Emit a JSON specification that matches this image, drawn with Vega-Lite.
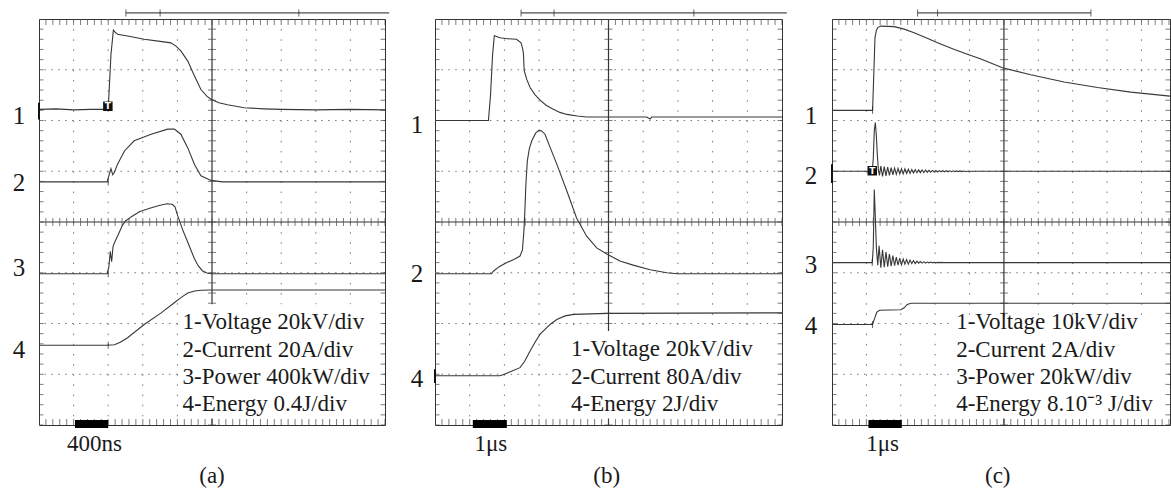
{
"$schema": "https://vega.github.io/schema/vega-lite/v6.json",
"background": "white",
"padding": {"left": 12, "top": 8, "right": 0, "bottom": 4},
"bounds": "flush",
"spacing": 50,
"config": {"view": {"stroke": "#333", "strokeWidth": 1}, "axis": {"labels": false, "ticks": false, "domain": false, "grid": false}},
"datasets": {
"gx": [{"t":1},{"t":2},{"t":3},{"t":4},{"t":6},{"t":7},{"t":8},{"t":9}],
"gy": [{"v":1},{"v":2},{"v":3},{"v":5},{"v":6},{"v":7}],
"xt": [{"t":0},{"t":0.2},{"t":0.4},{"t":0.6},{"t":0.8},{"t":1},{"t":1.2},{"t":1.4},{"t":1.6},{"t":1.8},{"t":2},{"t":2.2},{"t":2.4},{"t":2.6},{"t":2.8},{"t":3},{"t":3.2},{"t":3.4},{"t":3.6},{"t":3.8},{"t":4},{"t":4.2},{"t":4.4},{"t":4.6},{"t":4.8},{"t":5},{"t":5.2},{"t":5.4},{"t":5.6},{"t":5.8},{"t":6},{"t":6.2},{"t":6.4},{"t":6.6},{"t":6.8},{"t":7},{"t":7.2},{"t":7.4},{"t":7.6},{"t":7.8},{"t":8},{"t":8.2},{"t":8.4},{"t":8.6},{"t":8.8},{"t":9},{"t":9.2},{"t":9.4},{"t":9.6},{"t":9.8},{"t":10}],
"yt": [{"v":0},{"v":0.2},{"v":0.4},{"v":0.6},{"v":0.8},{"v":1},{"v":1.2},{"v":1.4},{"v":1.6},{"v":1.8},{"v":2},{"v":2.2},{"v":2.4},{"v":2.6},{"v":2.8},{"v":3},{"v":3.2},{"v":3.4},{"v":3.6},{"v":3.8},{"v":4},{"v":4.2},{"v":4.4},{"v":4.6},{"v":4.8},{"v":5},{"v":5.2},{"v":5.4},{"v":5.6},{"v":5.8},{"v":6},{"v":6.2},{"v":6.4},{"v":6.6},{"v":6.8},{"v":7},{"v":7.2},{"v":7.4},{"v":7.6},{"v":7.8},{"v":8}],
"one": [{}],
"trigA": [{"t":2.0,"v":4.79},{"t":2.0,"v":2.98},{"t":2.0,"v":1.57}],
"trigC": [{"t":1.18,"v":6.2},{"t":1.17,"v":3.2},{"t":1.18,"v":1.98}],
"A": [
{"ch":1,"t":0,"v":6.22},{"ch":1,"t":0.5,"v":6.23},{"ch":1,"t":1.0,"v":6.21},{"ch":1,"t":1.5,"v":6.22},{"ch":1,"t":2.0,"v":6.22},{"ch":1,"t":2.08,"v":7.3},{"ch":1,"t":2.15,"v":7.78},{"ch":1,"t":2.2,"v":7.74},{"ch":1,"t":2.27,"v":7.7},{"ch":1,"t":2.6,"v":7.66},{"ch":1,"t":3.04,"v":7.6},{"ch":1,"t":3.5,"v":7.56},{"ch":1,"t":3.81,"v":7.53},{"ch":1,"t":3.95,"v":7.47},{"ch":1,"t":4.1,"v":7.37},{"ch":1,"t":4.3,"v":7.17},{"ch":1,"t":4.49,"v":6.88},{"ch":1,"t":4.68,"v":6.61},{"ch":1,"t":4.85,"v":6.48},{"ch":1,"t":4.97,"v":6.42},{"ch":1,"t":5.2,"v":6.35},{"ch":1,"t":5.45,"v":6.31},{"ch":1,"t":5.93,"v":6.25},{"ch":1,"t":6.5,"v":6.23},{"ch":1,"t":7,"v":6.22},{"ch":1,"t":8,"v":6.21},{"ch":1,"t":9,"v":6.22},{"ch":1,"t":10,"v":6.21},
{"ch":2,"t":0,"v":4.79},{"ch":2,"t":1.97,"v":4.79},{"ch":2,"t":2.03,"v":4.94},{"ch":2,"t":2.08,"v":5.05},{"ch":2,"t":2.13,"v":4.93},{"ch":2,"t":2.18,"v":4.98},{"ch":2,"t":2.27,"v":5.14},{"ch":2,"t":2.47,"v":5.4},{"ch":2,"t":2.75,"v":5.6},{"ch":2,"t":3.24,"v":5.73},{"ch":2,"t":3.72,"v":5.83},{"ch":2,"t":3.91,"v":5.83},{"ch":2,"t":4.1,"v":5.73},{"ch":2,"t":4.3,"v":5.46},{"ch":2,"t":4.49,"v":5.14},{"ch":2,"t":4.68,"v":4.91},{"ch":2,"t":4.97,"v":4.82},{"ch":2,"t":5.3,"v":4.79},{"ch":2,"t":10,"v":4.79},
{"ch":3,"t":0,"v":2.98},{"ch":3,"t":1.97,"v":2.98},{"ch":3,"t":2.02,"v":3.12},{"ch":3,"t":2.06,"v":3.42},{"ch":3,"t":2.1,"v":3.22},{"ch":3,"t":2.14,"v":3.52},{"ch":3,"t":2.2,"v":3.62},{"ch":3,"t":2.27,"v":3.72},{"ch":3,"t":2.4,"v":3.92},{"ch":3,"t":2.5,"v":4.02},{"ch":3,"t":2.66,"v":4.1},{"ch":3,"t":2.9,"v":4.2},{"ch":3,"t":3.2,"v":4.27},{"ch":3,"t":3.5,"v":4.33},{"ch":3,"t":3.7,"v":4.36},{"ch":3,"t":3.85,"v":4.35},{"ch":3,"t":3.93,"v":4.3},{"ch":3,"t":4.01,"v":4.12},{"ch":3,"t":4.15,"v":3.85},{"ch":3,"t":4.3,"v":3.6},{"ch":3,"t":4.49,"v":3.28},{"ch":3,"t":4.6,"v":3.14},{"ch":3,"t":4.72,"v":3.04},{"ch":3,"t":4.87,"v":2.99},{"ch":3,"t":5.0,"v":2.98},{"ch":3,"t":10,"v":2.98},
{"ch":4,"t":0,"v":1.57},{"ch":4,"t":1.98,"v":1.57},{"ch":4,"t":2.18,"v":1.58},{"ch":4,"t":2.35,"v":1.63},{"ch":4,"t":2.56,"v":1.72},{"ch":4,"t":3.04,"v":1.98},{"ch":4,"t":3.53,"v":2.21},{"ch":4,"t":3.91,"v":2.41},{"ch":4,"t":4.1,"v":2.51},{"ch":4,"t":4.3,"v":2.6},{"ch":4,"t":4.5,"v":2.64},{"ch":4,"t":4.68,"v":2.655},{"ch":4,"t":4.97,"v":2.66},{"ch":4,"t":10,"v":2.66}
],
"B": [
{"ch":1,"t":0,"v":6.0},{"ch":1,"t":1.0,"v":6.0},{"ch":1,"t":1.54,"v":6.0},{"ch":1,"t":1.6,"v":6.5},{"ch":1,"t":1.66,"v":7.3},{"ch":1,"t":1.71,"v":7.67},{"ch":1,"t":1.87,"v":7.63},{"ch":1,"t":2.1,"v":7.61},{"ch":1,"t":2.35,"v":7.6},{"ch":1,"t":2.48,"v":7.53},{"ch":1,"t":2.53,"v":7.4},{"ch":1,"t":2.55,"v":7.3},{"ch":1,"t":2.57,"v":6.98},{"ch":1,"t":2.65,"v":6.8},{"ch":1,"t":2.74,"v":6.65},{"ch":1,"t":2.88,"v":6.51},{"ch":1,"t":3.03,"v":6.4},{"ch":1,"t":3.2,"v":6.3},{"ch":1,"t":3.41,"v":6.22},{"ch":1,"t":3.6,"v":6.16},{"ch":1,"t":3.8,"v":6.12},{"ch":1,"t":4.1,"v":6.09},{"ch":1,"t":4.37,"v":6.07},{"ch":1,"t":5.0,"v":6.07},{"ch":1,"t":6.1,"v":6.07},{"ch":1,"t":6.2,"v":6.03},{"ch":1,"t":6.25,"v":6.07},{"ch":1,"t":10,"v":6.07},
{"ch":2,"t":0,"v":2.98},{"ch":2,"t":1.63,"v":2.98},{"ch":2,"t":1.68,"v":3.03},{"ch":2,"t":1.85,"v":3.12},{"ch":2,"t":2.07,"v":3.2},{"ch":2,"t":2.3,"v":3.27},{"ch":2,"t":2.45,"v":3.33},{"ch":2,"t":2.52,"v":3.45},{"ch":2,"t":2.56,"v":3.8},{"ch":2,"t":2.59,"v":4.22},{"ch":2,"t":2.62,"v":4.75},{"ch":2,"t":2.66,"v":5.2},{"ch":2,"t":2.72,"v":5.45},{"ch":2,"t":2.79,"v":5.6},{"ch":2,"t":2.9,"v":5.75},{"ch":2,"t":3.0,"v":5.81},{"ch":2,"t":3.08,"v":5.79},{"ch":2,"t":3.17,"v":5.73},{"ch":2,"t":3.3,"v":5.5},{"ch":2,"t":3.51,"v":5.14},{"ch":2,"t":3.8,"v":4.61},{"ch":2,"t":4.08,"v":4.08},{"ch":2,"t":4.37,"v":3.72},{"ch":2,"t":4.66,"v":3.49},{"ch":2,"t":4.95,"v":3.37},{"ch":2,"t":5.33,"v":3.23},{"ch":2,"t":5.71,"v":3.15},{"ch":2,"t":6.2,"v":3.06},{"ch":2,"t":6.68,"v":3.0},{"ch":2,"t":7.0,"v":2.98},{"ch":2,"t":10,"v":2.98},
{"ch":4,"t":0,"v":0.97},{"ch":4,"t":1.87,"v":0.97},{"ch":4,"t":2.0,"v":1.0},{"ch":4,"t":2.17,"v":1.05},{"ch":4,"t":2.45,"v":1.13},{"ch":4,"t":2.58,"v":1.25},{"ch":4,"t":2.74,"v":1.46},{"ch":4,"t":2.9,"v":1.65},{"ch":4,"t":3.03,"v":1.79},{"ch":4,"t":3.22,"v":1.92},{"ch":4,"t":3.35,"v":2.0},{"ch":4,"t":3.51,"v":2.08},{"ch":4,"t":3.75,"v":2.15},{"ch":4,"t":4.0,"v":2.18},{"ch":4,"t":4.96,"v":2.2},{"ch":4,"t":10,"v":2.21}
],
"C": [
{"ch":1,"t":0,"v":6.2},{"ch":1,"t":1.18,"v":6.2},{"ch":1,"t":1.21,"v":6.8},{"ch":1,"t":1.25,"v":7.63},{"ch":1,"t":1.29,"v":7.78},{"ch":1,"t":1.33,"v":7.83},{"ch":1,"t":1.42,"v":7.86},{"ch":1,"t":1.81,"v":7.85},{"ch":1,"t":2.1,"v":7.8},{"ch":1,"t":2.39,"v":7.73},{"ch":1,"t":2.7,"v":7.64},{"ch":1,"t":3.07,"v":7.53},{"ch":1,"t":3.56,"v":7.4},{"ch":1,"t":4.0,"v":7.29},{"ch":1,"t":4.33,"v":7.21},{"ch":1,"t":4.96,"v":7.04},{"ch":1,"t":5.78,"v":6.9},{"ch":1,"t":6.75,"v":6.76},{"ch":1,"t":7.72,"v":6.65},{"ch":1,"t":8.69,"v":6.56},{"ch":1,"t":9.83,"v":6.48},
{"ch":2,"t":0,"v":5.0},{"ch":2,"t":1.17,"v":5.0},{"ch":2,"t":1.2,"v":5.25},{"ch":2,"t":1.23,"v":5.8},{"ch":2,"t":1.26,"v":5.96},{"ch":2,"t":1.29,"v":5.7},{"ch":2,"t":1.32,"v":5.3},{"ch":2,"t":1.35,"v":5.02},{"ch":2,"t":1.38,"v":4.92},{"ch":2,"t":1.42,"v":5.1},{"ch":2,"t":1.47,"v":4.9},{"ch":2,"t":1.52,"v":5.09},{"ch":2,"t":1.57,"v":4.91},{"ch":2,"t":1.62,"v":5.08},{"ch":2,"t":1.67,"v":4.92},{"ch":2,"t":1.72,"v":5.07},{"ch":2,"t":1.77,"v":4.93},{"ch":2,"t":1.82,"v":5.06},{"ch":2,"t":1.87,"v":4.94},{"ch":2,"t":1.92,"v":5.055},{"ch":2,"t":1.97,"v":4.945},{"ch":2,"t":2.02,"v":5.05},{"ch":2,"t":2.07,"v":4.95},{"ch":2,"t":2.12,"v":5.045},{"ch":2,"t":2.17,"v":4.955},{"ch":2,"t":2.22,"v":5.04},{"ch":2,"t":2.27,"v":4.96},{"ch":2,"t":2.32,"v":5.035},{"ch":2,"t":2.37,"v":4.965},{"ch":2,"t":2.42,"v":5.03},{"ch":2,"t":2.47,"v":4.97},{"ch":2,"t":2.52,"v":5.027},{"ch":2,"t":2.57,"v":4.973},{"ch":2,"t":2.62,"v":5.024},{"ch":2,"t":2.67,"v":4.976},{"ch":2,"t":2.72,"v":5.021},{"ch":2,"t":2.77,"v":4.979},{"ch":2,"t":2.82,"v":5.018},{"ch":2,"t":2.87,"v":4.982},{"ch":2,"t":2.92,"v":5.016},{"ch":2,"t":2.97,"v":4.984},{"ch":2,"t":3.02,"v":5.014},{"ch":2,"t":3.07,"v":4.986},{"ch":2,"t":3.12,"v":5.012},{"ch":2,"t":3.17,"v":4.988},{"ch":2,"t":3.22,"v":5.011},{"ch":2,"t":3.27,"v":4.989},{"ch":2,"t":3.32,"v":5.01},{"ch":2,"t":3.37,"v":4.99},{"ch":2,"t":3.42,"v":5.009},{"ch":2,"t":3.47,"v":4.991},{"ch":2,"t":3.52,"v":5.008},{"ch":2,"t":3.57,"v":4.992},{"ch":2,"t":3.62,"v":5.007},{"ch":2,"t":3.67,"v":4.993},{"ch":2,"t":3.72,"v":5.006},{"ch":2,"t":3.77,"v":4.994},{"ch":2,"t":3.82,"v":5.005},{"ch":2,"t":3.87,"v":4.995},{"ch":2,"t":3.95,"v":5.0},{"ch":2,"t":9.83,"v":5.0},
{"ch":3,"t":0,"v":3.2},{"ch":3,"t":1.17,"v":3.2},{"ch":3,"t":1.2,"v":3.5},{"ch":3,"t":1.23,"v":4.64},{"ch":3,"t":1.26,"v":4.1},{"ch":3,"t":1.29,"v":3.5},{"ch":3,"t":1.33,"v":3.15},{"ch":3,"t":1.37,"v":3.53},{"ch":3,"t":1.42,"v":3.1},{"ch":3,"t":1.47,"v":3.45},{"ch":3,"t":1.52,"v":3.11},{"ch":3,"t":1.57,"v":3.41},{"ch":3,"t":1.62,"v":3.12},{"ch":3,"t":1.67,"v":3.37},{"ch":3,"t":1.72,"v":3.13},{"ch":3,"t":1.77,"v":3.34},{"ch":3,"t":1.82,"v":3.14},{"ch":3,"t":1.87,"v":3.31},{"ch":3,"t":1.92,"v":3.15},{"ch":3,"t":1.97,"v":3.29},{"ch":3,"t":2.02,"v":3.16},{"ch":3,"t":2.07,"v":3.27},{"ch":3,"t":2.12,"v":3.17},{"ch":3,"t":2.17,"v":3.26},{"ch":3,"t":2.22,"v":3.17},{"ch":3,"t":2.27,"v":3.25},{"ch":3,"t":2.32,"v":3.18},{"ch":3,"t":2.37,"v":3.24},{"ch":3,"t":2.42,"v":3.18},{"ch":3,"t":2.47,"v":3.23},{"ch":3,"t":2.52,"v":3.19},{"ch":3,"t":2.57,"v":3.22},{"ch":3,"t":2.62,"v":3.19},{"ch":3,"t":2.67,"v":3.215},{"ch":3,"t":2.72,"v":3.19},{"ch":3,"t":2.77,"v":3.21},{"ch":3,"t":2.82,"v":3.195},{"ch":3,"t":2.87,"v":3.21},{"ch":3,"t":2.92,"v":3.195},{"ch":3,"t":2.97,"v":3.207},{"ch":3,"t":3.02,"v":3.198},{"ch":3,"t":3.07,"v":3.205},{"ch":3,"t":3.12,"v":3.199},{"ch":3,"t":3.17,"v":3.204},{"ch":3,"t":3.22,"v":3.2},{"ch":3,"t":9.83,"v":3.2},
{"ch":4,"t":0,"v":1.98},{"ch":4,"t":1.18,"v":1.98},{"ch":4,"t":1.24,"v":2.1},{"ch":4,"t":1.3,"v":2.22},{"ch":4,"t":1.38,"v":2.26},{"ch":4,"t":2.0,"v":2.27},{"ch":4,"t":2.1,"v":2.31},{"ch":4,"t":2.18,"v":2.37},{"ch":4,"t":2.25,"v":2.39},{"ch":4,"t":2.3,"v":2.4},{"ch":4,"t":9.83,"v":2.4}
]
},
"hconcat": [
{
"width": 346, "height": 406,
"layer": [
{"data":{"name":"gx"},"mark":{"type":"rule","color":"#777","strokeWidth":1,"strokeDash":[1.5,8.65]},"encoding":{"x":{"field":"t","type":"quantitative","axis":null,"scale":{"domain":[0,10],"nice":false,"zero":false}}}},
{"data":{"name":"gy"},"mark":{"type":"rule","color":"#777","strokeWidth":1,"strokeDash":[1.5,5.42]},"encoding":{"y":{"field":"v","type":"quantitative","axis":null,"scale":{"domain":[0,8],"nice":false,"zero":false}}}},
{"data":{"name":"one"},"mark":{"type":"rule","color":"#333","strokeWidth":1.2},"encoding":{"x":{"datum":5,"axis":null}}},
{"data":{"name":"one"},"mark":{"type":"rule","color":"#333","strokeWidth":1.2},"encoding":{"y":{"datum":4,"axis":null}}},
{"data":{"name":"xt"},"mark":{"type":"tick","orient":"vertical","size":8,"thickness":1,"color":"#444","clip":true},"encoding":{"x":{"field":"t","type":"quantitative","axis":null},"y":{"datum":4,"axis":null}}},
{"data":{"name":"yt"},"mark":{"type":"tick","orient":"horizontal","size":8,"thickness":1,"color":"#444","clip":true},"encoding":{"y":{"field":"v","type":"quantitative","axis":null},"x":{"datum":5,"axis":null}}},
{"data":{"name":"A"},"mark":{"type":"line","color":"#383838","strokeWidth":1.1,"clip":true},"encoding":{"x":{"field":"t","type":"quantitative","axis":null},"y":{"field":"v","type":"quantitative","axis":null},"detail":{"field":"ch","type":"nominal"}}},
{"data":{"name":"trigA"},"mark":{"type":"tick","orient":"vertical","size":7,"thickness":1,"color":"#222"},"encoding":{"x":{"field":"t","type":"quantitative","axis":null},"y":{"field":"v","type":"quantitative","axis":null}}},
{"data":{"name":"one"},"mark":{"type":"rect","color":"white"},"encoding":{"x":{"datum":4.05,"axis":null},"x2":{"datum":9.9},"y":{"datum":0.13,"axis":null},"y2":{"datum":2.38}}},
{"data":{"name":"xt"},"mark":{"type":"tick","orient":"vertical","size":12,"thickness":1,"color":"#444","clip":true},"encoding":{"x":{"field":"t","type":"quantitative","axis":null},"y":{"datum":0,"axis":null}}},
{"data":{"name":"xt"},"mark":{"type":"tick","orient":"vertical","size":12,"thickness":1,"color":"#444","clip":true},"encoding":{"x":{"field":"t","type":"quantitative","axis":null},"y":{"datum":8,"axis":null}}},
{"data":{"name":"yt"},"mark":{"type":"tick","orient":"horizontal","size":9,"thickness":1,"color":"#444","clip":true},"encoding":{"y":{"field":"v","type":"quantitative","axis":null},"x":{"datum":0,"axis":null}}},
{"data":{"name":"yt"},"mark":{"type":"tick","orient":"horizontal","size":9,"thickness":1,"color":"#444","clip":true},"encoding":{"y":{"field":"v","type":"quantitative","axis":null},"x":{"datum":10,"axis":null}}},
{"data":{"name":"one"},"mark":{"type":"text","text":["1-Voltage 20kV/div","2-Current 20A/div","3-Power 400kW/div","4-Energy 0.4J/div"],"lineHeight":27.2,"font":"Liberation Serif","fontSize":23,"align":"left","baseline":"middle","color":"#1a1a1a"},"encoding":{"x":{"datum":4.15,"axis":null},"y":{"datum":2.02,"axis":null}}},
{"data":{"name":"one"},"mark":{"type":"text","text":"1","font":"Liberation Serif","fontSize":25,"align":"center","baseline":"alphabetic","color":"#1a1a1a"},"encoding":{"x":{"datum":-0.58,"axis":null},"y":{"datum":5.93,"axis":null}}},
{"data":{"name":"one"},"mark":{"type":"text","text":"2","font":"Liberation Serif","fontSize":25,"align":"center","baseline":"alphabetic","color":"#1a1a1a"},"encoding":{"x":{"datum":-0.58,"axis":null},"y":{"datum":4.61,"axis":null}}},
{"data":{"name":"one"},"mark":{"type":"text","text":"3","font":"Liberation Serif","fontSize":25,"align":"center","baseline":"alphabetic","color":"#1a1a1a"},"encoding":{"x":{"datum":-0.58,"axis":null},"y":{"datum":2.94,"axis":null}}},
{"data":{"name":"one"},"mark":{"type":"text","text":"4","font":"Liberation Serif","fontSize":25,"align":"center","baseline":"alphabetic","color":"#1a1a1a"},"encoding":{"x":{"datum":-0.58,"axis":null},"y":{"datum":1.33,"axis":null}}},
{"data":{"name":"one"},"mark":{"type":"point","shape":"square","filled":true,"size":90,"color":"#111","opacity":1},"encoding":{"x":{"datum":1.99,"axis":null},"y":{"datum":6.28,"axis":null}}},
{"data":{"name":"one"},"mark":{"type":"text","text":"T","font":"DejaVu Sans","fontSize":9,"fontWeight":"bold","align":"center","baseline":"middle","color":"white"},"encoding":{"x":{"datum":1.99,"axis":null},"y":{"datum":6.28,"axis":null}}},
{"data":{"name":"one"},"mark":{"type":"rule","color":"#111","strokeWidth":2},"encoding":{"x":{"datum":0,"axis":null},"y":{"datum":6.02,"axis":null},"y2":{"datum":6.35}}},
{"data":{"name":"one"},"mark":{"type":"rule","color":"#222","strokeWidth":1},"encoding":{"x":{"datum":2.51,"axis":null},"x2":{"datum":10.12},"y":{"datum":8.12,"axis":null}}},
{"data":{"name":"one"},"mark":{"type":"tick","orient":"vertical","size":7,"thickness":1,"color":"#222"},"encoding":{"x":{"datum":2.51,"axis":null},"y":{"datum":8.12,"axis":null}}},
{"data":{"name":"one"},"mark":{"type":"tick","orient":"vertical","size":7,"thickness":1,"color":"#222"},"encoding":{"x":{"datum":3.5,"axis":null},"y":{"datum":8.12,"axis":null}}},
{"data":{"name":"one"},"mark":{"type":"tick","orient":"vertical","size":7,"thickness":1,"color":"#222"},"encoding":{"x":{"datum":7.51,"axis":null},"y":{"datum":8.12,"axis":null}}},
{"data":{"name":"one"},"mark":{"type":"rect","color":"#000"},"encoding":{"x":{"datum":1.04,"axis":null},"x2":{"datum":2.0},"y":{"datum":-0.06,"axis":null},"y2":{"datum":0.1}}},
{"data":{"name":"one"},"mark":{"type":"text","text":"400ns","font":"Liberation Serif","fontSize":23,"align":"center","baseline":"middle","color":"#1a1a1a"},"encoding":{"x":{"datum":1.6,"axis":null},"y":{"datum":-0.37,"axis":null}}},
{"data":{"name":"one"},"mark":{"type":"text","text":"(a)","font":"Liberation Serif","fontSize":23,"align":"center","baseline":"middle","color":"#1a1a1a"},"encoding":{"x":{"datum":5,"axis":null},"y":{"datum":-1.0,"axis":null}}}
]
},
{
"width": 347, "height": 406,
"layer": [
{"data":{"name":"gx"},"mark":{"type":"rule","color":"#777","strokeWidth":1,"strokeDash":[1.5,8.65]},"encoding":{"x":{"field":"t","type":"quantitative","axis":null,"scale":{"domain":[0,10],"nice":false,"zero":false}}}},
{"data":{"name":"gy"},"mark":{"type":"rule","color":"#777","strokeWidth":1,"strokeDash":[1.5,5.42]},"encoding":{"y":{"field":"v","type":"quantitative","axis":null,"scale":{"domain":[0,8],"nice":false,"zero":false}}}},
{"data":{"name":"one"},"mark":{"type":"rule","color":"#333","strokeWidth":1.2},"encoding":{"x":{"datum":5,"axis":null}}},
{"data":{"name":"one"},"mark":{"type":"rule","color":"#333","strokeWidth":1.2},"encoding":{"y":{"datum":4,"axis":null}}},
{"data":{"name":"xt"},"mark":{"type":"tick","orient":"vertical","size":8,"thickness":1,"color":"#444","clip":true},"encoding":{"x":{"field":"t","type":"quantitative","axis":null},"y":{"datum":4,"axis":null}}},
{"data":{"name":"yt"},"mark":{"type":"tick","orient":"horizontal","size":8,"thickness":1,"color":"#444","clip":true},"encoding":{"y":{"field":"v","type":"quantitative","axis":null},"x":{"datum":5,"axis":null}}},
{"data":{"name":"B"},"mark":{"type":"line","color":"#383838","strokeWidth":1.1,"clip":true},"encoding":{"x":{"field":"t","type":"quantitative","axis":null},"y":{"field":"v","type":"quantitative","axis":null},"detail":{"field":"ch","type":"nominal"}}},
{"data":{"name":"one"},"mark":{"type":"rect","color":"white"},"encoding":{"x":{"datum":3.85,"axis":null},"x2":{"datum":9.9},"y":{"datum":0.13,"axis":null},"y2":{"datum":1.85}}},
{"data":{"name":"xt"},"mark":{"type":"tick","orient":"vertical","size":12,"thickness":1,"color":"#444","clip":true},"encoding":{"x":{"field":"t","type":"quantitative","axis":null},"y":{"datum":0,"axis":null}}},
{"data":{"name":"xt"},"mark":{"type":"tick","orient":"vertical","size":12,"thickness":1,"color":"#444","clip":true},"encoding":{"x":{"field":"t","type":"quantitative","axis":null},"y":{"datum":8,"axis":null}}},
{"data":{"name":"yt"},"mark":{"type":"tick","orient":"horizontal","size":9,"thickness":1,"color":"#444","clip":true},"encoding":{"y":{"field":"v","type":"quantitative","axis":null},"x":{"datum":0,"axis":null}}},
{"data":{"name":"yt"},"mark":{"type":"tick","orient":"horizontal","size":9,"thickness":1,"color":"#444","clip":true},"encoding":{"y":{"field":"v","type":"quantitative","axis":null},"x":{"datum":10,"axis":null}}},
{"data":{"name":"one"},"mark":{"type":"text","text":["1-Voltage 20kV/div","2-Current 80A/div","4-Energy 2J/div"],"lineHeight":27.2,"font":"Liberation Serif","fontSize":23,"align":"left","baseline":"middle","color":"#1a1a1a"},"encoding":{"x":{"datum":3.92,"axis":null},"y":{"datum":1.49,"axis":null}}},
{"data":{"name":"one"},"mark":{"type":"text","text":"1","font":"Liberation Serif","fontSize":25,"align":"center","baseline":"alphabetic","color":"#1a1a1a"},"encoding":{"x":{"datum":-0.52,"axis":null},"y":{"datum":5.76,"axis":null}}},
{"data":{"name":"one"},"mark":{"type":"text","text":"2","font":"Liberation Serif","fontSize":25,"align":"center","baseline":"alphabetic","color":"#1a1a1a"},"encoding":{"x":{"datum":-0.52,"axis":null},"y":{"datum":2.82,"axis":null}}},
{"data":{"name":"one"},"mark":{"type":"text","text":"4","font":"Liberation Serif","fontSize":25,"align":"center","baseline":"alphabetic","color":"#1a1a1a"},"encoding":{"x":{"datum":-0.52,"axis":null},"y":{"datum":0.74,"axis":null}}},
{"data":{"name":"one"},"mark":{"type":"rule","color":"#111","strokeWidth":2},"encoding":{"x":{"datum":0,"axis":null},"y":{"datum":0.83,"axis":null},"y2":{"datum":1.1}}},
{"data":{"name":"one"},"mark":{"type":"rule","color":"#222","strokeWidth":1},"encoding":{"x":{"datum":2.48,"axis":null},"x2":{"datum":10.14},"y":{"datum":8.12,"axis":null}}},
{"data":{"name":"one"},"mark":{"type":"tick","orient":"vertical","size":7,"thickness":1,"color":"#222"},"encoding":{"x":{"datum":2.48,"axis":null},"y":{"datum":8.12,"axis":null}}},
{"data":{"name":"one"},"mark":{"type":"tick","orient":"vertical","size":7,"thickness":1,"color":"#222"},"encoding":{"x":{"datum":3.43,"axis":null},"y":{"datum":8.12,"axis":null}}},
{"data":{"name":"one"},"mark":{"type":"tick","orient":"vertical","size":7,"thickness":1,"color":"#222"},"encoding":{"x":{"datum":7.46,"axis":null},"y":{"datum":8.12,"axis":null}}},
{"data":{"name":"one"},"mark":{"type":"rect","color":"#000"},"encoding":{"x":{"datum":1.09,"axis":null},"x2":{"datum":2.07},"y":{"datum":-0.06,"axis":null},"y2":{"datum":0.1}}},
{"data":{"name":"one"},"mark":{"type":"text","text":"1μs","font":"Liberation Serif","fontSize":23,"align":"center","baseline":"middle","color":"#1a1a1a"},"encoding":{"x":{"datum":1.61,"axis":null},"y":{"datum":-0.37,"axis":null}}},
{"data":{"name":"one"},"mark":{"type":"text","text":"(b)","font":"Liberation Serif","fontSize":23,"align":"center","baseline":"middle","color":"#1a1a1a"},"encoding":{"x":{"datum":4.95,"axis":null},"y":{"datum":-1.0,"axis":null}}}
]
},
{
"width": 338, "height": 406,
"layer": [
{"data":{"name":"gx"},"mark":{"type":"rule","color":"#777","strokeWidth":1,"strokeDash":[1.5,8.65]},"encoding":{"x":{"field":"t","type":"quantitative","axis":null,"scale":{"domain":[0,9.83],"nice":false,"zero":false}}}},
{"data":{"name":"gy"},"mark":{"type":"rule","color":"#777","strokeWidth":1,"strokeDash":[1.5,5.42]},"encoding":{"y":{"field":"v","type":"quantitative","axis":null,"scale":{"domain":[0,8],"nice":false,"zero":false}}}},
{"data":{"name":"one"},"mark":{"type":"rule","color":"#333","strokeWidth":1.2},"encoding":{"x":{"datum":5,"axis":null}}},
{"data":{"name":"one"},"mark":{"type":"rule","color":"#333","strokeWidth":1.2},"encoding":{"y":{"datum":4,"axis":null}}},
{"data":{"name":"xt"},"mark":{"type":"tick","orient":"vertical","size":8,"thickness":1,"color":"#444","clip":true},"encoding":{"x":{"field":"t","type":"quantitative","axis":null},"y":{"datum":4,"axis":null}}},
{"data":{"name":"yt"},"mark":{"type":"tick","orient":"horizontal","size":8,"thickness":1,"color":"#444","clip":true},"encoding":{"y":{"field":"v","type":"quantitative","axis":null},"x":{"datum":5,"axis":null}}},
{"data":{"name":"C"},"mark":{"type":"line","color":"#383838","strokeWidth":1.1,"clip":true},"encoding":{"x":{"field":"t","type":"quantitative","axis":null},"y":{"field":"v","type":"quantitative","axis":null},"detail":{"field":"ch","type":"nominal"}}},
{"data":{"name":"trigC"},"mark":{"type":"tick","orient":"vertical","size":7,"thickness":1,"color":"#222"},"encoding":{"x":{"field":"t","type":"quantitative","axis":null},"y":{"field":"v","type":"quantitative","axis":null}}},
{"data":{"name":"one"},"mark":{"type":"rect","color":"white"},"encoding":{"x":{"datum":3.55,"axis":null},"x2":{"datum":9.72},"y":{"datum":0.13,"axis":null},"y2":{"datum":2.12}}},
{"data":{"name":"xt"},"mark":{"type":"tick","orient":"vertical","size":12,"thickness":1,"color":"#444","clip":true},"encoding":{"x":{"field":"t","type":"quantitative","axis":null},"y":{"datum":0,"axis":null}}},
{"data":{"name":"xt"},"mark":{"type":"tick","orient":"vertical","size":12,"thickness":1,"color":"#444","clip":true},"encoding":{"x":{"field":"t","type":"quantitative","axis":null},"y":{"datum":8,"axis":null}}},
{"data":{"name":"yt"},"mark":{"type":"tick","orient":"horizontal","size":9,"thickness":1,"color":"#444","clip":true},"encoding":{"y":{"field":"v","type":"quantitative","axis":null},"x":{"datum":0,"axis":null}}},
{"data":{"name":"yt"},"mark":{"type":"tick","orient":"horizontal","size":9,"thickness":1,"color":"#444","clip":true},"encoding":{"y":{"field":"v","type":"quantitative","axis":null},"x":{"datum":9.83,"axis":null}}},
{"data":{"name":"one"},"mark":{"type":"text","text":["1-Voltage 10kV/div","2-Current 2A/div","3-Power 20kW/div","4-Energy 8.10⁻³ J/div"],"lineHeight":27.2,"font":"Liberation Serif","fontSize":23,"align":"left","baseline":"middle","color":"#1a1a1a"},"encoding":{"x":{"datum":3.61,"axis":null},"y":{"datum":2.02,"axis":null}}},
{"data":{"name":"one"},"mark":{"type":"text","text":"1","font":"Liberation Serif","fontSize":25,"align":"center","baseline":"alphabetic","color":"#1a1a1a"},"encoding":{"x":{"datum":-0.61,"axis":null},"y":{"datum":5.94,"axis":null}}},
{"data":{"name":"one"},"mark":{"type":"text","text":"2","font":"Liberation Serif","fontSize":25,"align":"center","baseline":"alphabetic","color":"#1a1a1a"},"encoding":{"x":{"datum":-0.61,"axis":null},"y":{"datum":4.74,"axis":null}}},
{"data":{"name":"one"},"mark":{"type":"text","text":"3","font":"Liberation Serif","fontSize":25,"align":"center","baseline":"alphabetic","color":"#1a1a1a"},"encoding":{"x":{"datum":-0.61,"axis":null},"y":{"datum":3.0,"axis":null}}},
{"data":{"name":"one"},"mark":{"type":"text","text":"4","font":"Liberation Serif","fontSize":25,"align":"center","baseline":"alphabetic","color":"#1a1a1a"},"encoding":{"x":{"datum":-0.61,"axis":null},"y":{"datum":1.79,"axis":null}}},
{"data":{"name":"one"},"mark":{"type":"point","shape":"square","filled":true,"size":90,"color":"#111","opacity":1},"encoding":{"x":{"datum":1.17,"axis":null},"y":{"datum":5.01,"axis":null}}},
{"data":{"name":"one"},"mark":{"type":"text","text":"T","font":"DejaVu Sans","fontSize":9,"fontWeight":"bold","align":"center","baseline":"middle","color":"white"},"encoding":{"x":{"datum":1.17,"axis":null},"y":{"datum":5.01,"axis":null}}},
{"data":{"name":"one"},"mark":{"type":"rule","color":"#111","strokeWidth":2},"encoding":{"x":{"datum":0,"axis":null},"y":{"datum":4.77,"axis":null},"y2":{"datum":5.14}}},
{"data":{"name":"one"},"mark":{"type":"rule","color":"#222","strokeWidth":1},"encoding":{"x":{"datum":2.49,"axis":null},"x2":{"datum":7.53},"y":{"datum":8.12,"axis":null}}},
{"data":{"name":"one"},"mark":{"type":"tick","orient":"vertical","size":7,"thickness":1,"color":"#222"},"encoding":{"x":{"datum":2.49,"axis":null},"y":{"datum":8.12,"axis":null}}},
{"data":{"name":"one"},"mark":{"type":"tick","orient":"vertical","size":7,"thickness":1,"color":"#222"},"encoding":{"x":{"datum":3.07,"axis":null},"y":{"datum":8.12,"axis":null}}},
{"data":{"name":"one"},"mark":{"type":"tick","orient":"vertical","size":7,"thickness":1,"color":"#222"},"encoding":{"x":{"datum":7.53,"axis":null},"y":{"datum":8.12,"axis":null}}},
{"data":{"name":"one"},"mark":{"type":"rect","color":"#000"},"encoding":{"x":{"datum":1.06,"axis":null},"x2":{"datum":2.03},"y":{"datum":-0.06,"axis":null},"y2":{"datum":0.1}}},
{"data":{"name":"one"},"mark":{"type":"text","text":"1μs","font":"Liberation Serif","fontSize":23,"align":"center","baseline":"middle","color":"#1a1a1a"},"encoding":{"x":{"datum":1.47,"axis":null},"y":{"datum":-0.37,"axis":null}}},
{"data":{"name":"one"},"mark":{"type":"text","text":"(c)","font":"Liberation Serif","fontSize":23,"align":"center","baseline":"middle","color":"#1a1a1a"},"encoding":{"x":{"datum":4.82,"axis":null},"y":{"datum":-1.0,"axis":null}}}
]
}
]
}
